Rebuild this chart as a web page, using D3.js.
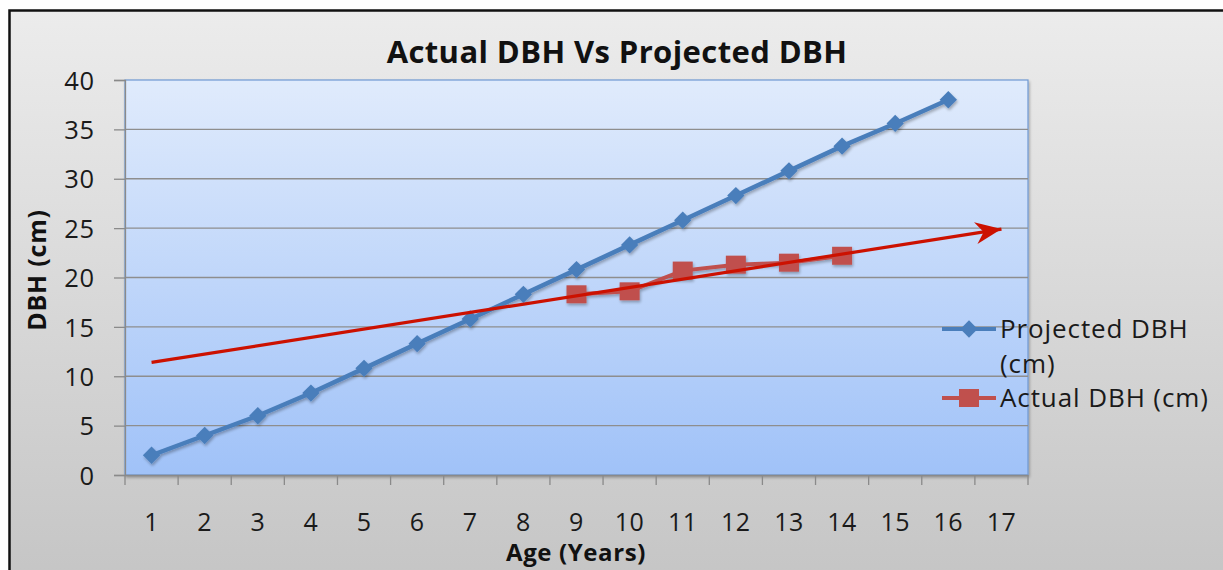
<!DOCTYPE html>
<html><head><meta charset="utf-8">
<script src="https://cdn.jsdelivr.net/npm/d3@7"></script>
<style>body{margin:0;background:#fff}svg{display:block}</style>
</head><body>
<svg id="c" width="1223" height="570"></svg>
<script>
const ages = [1,2,3,4,5,6,7,8,9,10,11,12,13,14,15,16,17];
const projectedDBH = [2.0,4.0,6.0,8.3,10.8,13.3,15.8,18.3,20.8,23.3,25.8,28.3,30.8,33.3,35.6,38.0];
const actualAges = [9,10,11,12,13,14];
const actualDBH = [18.3,18.6,20.7,21.3,21.5,22.2];
const trendAges = [1,17];
const trendDBH = [11.4,24.9];
const yTicks = [0,5,10,15,20,25,30,35,40];
const title = "Actual DBH Vs Projected DBH";
const xTitle = "Age (Years)";
const yTitle = "DBH (cm)";
const legendLabels = [["Projected DBH","(cm)"],["Actual DBH (cm)"]];

const svg = d3.select("#c");
const font = "'Open Sans', sans-serif";
const defs = svg.append("defs");
const bg = defs.append("linearGradient").attr("id","bg").attr("x1",0).attr("y1",0).attr("x2",0).attr("y2",1);
bg.append("stop").attr("offset","0%").attr("stop-color","#ececec");
bg.append("stop").attr("offset","100%").attr("stop-color","#c3c3c3");
const pg = defs.append("linearGradient").attr("id","pg").attr("x1",0).attr("y1",0).attr("x2",0).attr("y2",1);
pg.append("stop").attr("offset","0%").attr("stop-color","#e0ebfc");
pg.append("stop").attr("offset","100%").attr("stop-color","#a0c2f8");
const sh = defs.append("filter").attr("id","sh").attr("x","-10%").attr("y","-10%").attr("width","120%").attr("height","130%");
sh.append("feGaussianBlur").attr("in","SourceAlpha").attr("stdDeviation",1.5);
sh.append("feOffset").attr("dx",1).attr("dy",2).attr("result","b");
sh.append("feComponentTransfer").append("feFuncA").attr("type","linear").attr("slope",0.3);
const fm = sh.append("feMerge"); fm.append("feMergeNode"); fm.append("feMergeNode").attr("in","SourceGraphic");

svg.append("rect").attr("x",9.5).attr("y",10.5).attr("width",1240).attr("height",600)
  .attr("fill","url(#bg)").attr("stroke","#111").attr("stroke-width",2.5);

const L=125, R=1028, T=80, B=475;
const x = d3.scaleBand().domain(ages).range([L,R]);
const y = d3.scaleLinear().domain([0,40]).range([B,T]);
const cx = a => x(a)+x.bandwidth()/2;

svg.append("rect").attr("x",L).attr("y",T).attr("width",R-L).attr("height",B-T)
  .attr("fill","url(#pg)").attr("stroke","#6f98d2").attr("stroke-width",1.2).attr("filter","url(#sh)");

// gridlines
svg.append("g").selectAll("line").data(yTicks.filter(d=>d>0&&d<40)).join("line")
  .attr("x1",L).attr("x2",R).attr("y1",d=>y(d)).attr("y2",d=>y(d))
  .attr("stroke","#8e8e8e").attr("stroke-width",1.3);

// y axis
const ya = svg.append("g").attr("transform",`translate(${L},0)`)
  .call(d3.axisLeft(y).tickValues(yTicks).tickSize(11).tickPadding(19));
ya.select(".domain").attr("stroke","#8a8a8a").attr("stroke-width",1.3);
ya.selectAll(".tick line").attr("stroke","#8a8a8a").attr("stroke-width",1.3);
ya.selectAll("text").attr("font-family",font).attr("font-size",25.5).attr("letter-spacing",0.8).attr("fill","#1a1a1a").attr("dy","0.36em");

// x axis
const xa = svg.append("g").attr("transform",`translate(0,${B})`)
  .call(d3.axisBottom(x).tickSize(0).tickPadding(0));
xa.select(".domain").attr("stroke","#8a8a8a").attr("stroke-width",1.3);
xa.selectAll("text").attr("font-family",font).attr("font-size",25).attr("letter-spacing",0.5).attr("fill","#1a1a1a").attr("dy",null).attr("y",56);
svg.append("g").selectAll("line").data(ages.concat(["end"])).join("line")
  .attr("x1",d=>d==="end"?R:x(d)).attr("x2",d=>d==="end"?R:x(d))
  .attr("y1",B).attr("y2",B+10).attr("stroke","#8a8a8a").attr("stroke-width",1.3);

// projected series
const projPts = projectedDBH.map((v,i)=>[cx(ages[i]),y(v)]);
const gP = svg.append("g").attr("filter","url(#sh)");
gP.append("path").attr("d",d3.line()(projPts)).attr("fill","none").attr("stroke","#4a7ebb").attr("stroke-width",4.5);
gP.selectAll("path.m").data(projPts).join("path").attr("class","m")
  .attr("d",d3.symbol(d3.symbolSquare,150)).attr("transform",d=>`translate(${d[0]},${d[1]}) rotate(45)`)
  .attr("fill","#4a7ebb");

// actual series
const actPts = actualDBH.map((v,i)=>[cx(actualAges[i]),y(v)]);
const gA = svg.append("g").attr("filter","url(#sh)");
gA.append("path").attr("d",d3.line()(actPts)).attr("fill","none").attr("stroke","#c0504d").attr("stroke-width",4);
gA.selectAll("rect").data(actPts).join("rect")
  .attr("x",d=>d[0]-10).attr("y",d=>d[1]-9).attr("width",20).attr("height",18).attr("fill","#c0504d");

// trend arrow
const tp = trendDBH.map((v,i)=>[cx(trendAges[i]),y(v)]);
const gT = svg.append("g");
gT.append("path").attr("d",d3.line()(tp)).attr("fill","none").attr("stroke","#cc1100").attr("stroke-width",3.2);
const ang = Math.atan2(tp[1][1]-tp[0][1], tp[1][0]-tp[0][0])*180/Math.PI;
gT.append("path").attr("d","M0,0 L-26,-11 L-18,0 L-26,11 Z")
  .attr("transform",`translate(${tp[1][0]},${tp[1][1]}) rotate(${ang})`).attr("fill","#cc1100");

// titles
svg.append("text").attr("x",617).attr("y",63).attr("text-anchor","middle")
  .attr("font-family",font).attr("font-weight","bold").attr("font-size",31).attr("letter-spacing",0.4).attr("fill","#111").text(title);
svg.append("text").attr("x",576).attr("y",561).attr("text-anchor","middle")
  .attr("font-family",font).attr("font-weight","bold").attr("font-size",24).attr("letter-spacing",0.6).attr("fill","#111").text(xTitle);
svg.append("text").attr("transform","translate(46,270) rotate(-90)").attr("text-anchor","middle")
  .attr("font-family",font).attr("font-weight","bold").attr("font-size",25).attr("letter-spacing",0.8).attr("fill","#111").text(yTitle);

// legend
const lg = svg.append("g");
const ly = [329, 398];
const lcol = ["#4a7ebb","#c0504d"];
ly.forEach((yy,i)=>{
  lg.append("line").attr("x1",942).attr("x2",996).attr("y1",yy).attr("y2",yy).attr("stroke",lcol[i]).attr("stroke-width",4);
  if(i===0) lg.append("path").attr("d",d3.symbol(d3.symbolSquare,150)).attr("transform",`translate(969,${yy}) rotate(45)`).attr("fill",lcol[i]);
  else lg.append("rect").attr("x",959).attr("y",yy-9).attr("width",20).attr("height",18).attr("fill",lcol[i]);
  const t = lg.append("text").attr("x",1000).attr("y",yy+9).attr("font-family",font).attr("font-size",26).attr("letter-spacing",0.9).attr("fill","#1a1a1a");
  legendLabels[i].forEach((s,j)=>t.append("tspan").attr("x",1000).attr("dy",j?35:0).text(s));
});
</script>
</body></html>
